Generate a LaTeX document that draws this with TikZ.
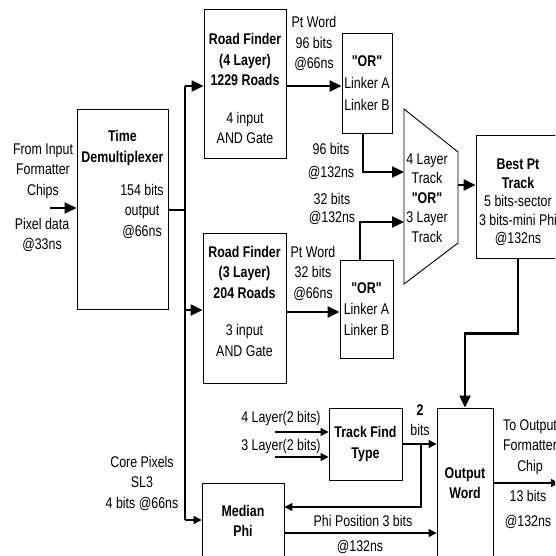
\documentclass[tikz,border=0pt]{standalone}
\usepackage{fontspec}
\setmainfont{Liberation Sans}[FakeStretch=0.8, Ligatures=TeXOff]
\usetikzlibrary{arrows.meta,calc}
\newcommand{\fsz}{\fontsize{15.5}{20.5}\selectfont}

\begin{document}
\begin{tikzpicture}[x=1pt, y=-1pt,
  blk/.style={draw, line width=0.9pt, inner sep=0pt, align=center, font=\fsz},
  lbl/.style={inner sep=0pt, align=center, font=\fsz},
  ar/.style={-{Triangle[length=12pt,width=11pt]}, line width=2.3pt},
  bus/.style={line width=2pt},
  tar/.style={-{Triangle[length=8pt,width=8pt]}, line width=1.2pt}]
\clip (0,0) rectangle (555,556);

% blocks
\node[blk, minimum width=91pt, minimum height=200pt] (dmx) at (122.5,209) {};
\node[lbl, font=\fsz\bfseries] (dmxname) at (122.5,148) {Time\\Demultiplexer};
\node[lbl] (dmxout) at (142,211) {154 bits\\output\\@66ns};
\node[blk, minimum width=82pt, minimum height=149pt,
  label={[lbl, yshift=-5pt]center:{\textbf{Road Finder}\\\textbf{(4 Layer)}\\\textbf{1229 Roads}\\[17pt]4 input\\AND Gate}}]
  (rf4) at (245,83.5) {};
\node[blk, minimum width=83pt, minimum height=150pt,
  label={[lbl, yshift=7pt]center:{\textbf{Road Finder}\\\textbf{(3 Layer)}\\\textbf{204 Roads}\\[17pt]3 input\\AND Gate}}]
  (rf3) at (244.5,308) {};
\node[blk, font=\fontsize{15.5}{22}\selectfont, minimum width=50pt, minimum height=100pt] (or1) at (367,83)
  {\textbf{"OR"}\\Linker A\\Linker B};
\node[blk, font=\fontsize{15.5}{21}\selectfont, minimum width=53pt, minimum height=98pt] (or2) at (366.5,309)
  {\textbf{"OR"}\\Linker A\\Linker B};
\draw[line width=0.9pt] (404,109) -- (458,152) -- (458,243) -- (404,284) -- cycle;
\coordinate (t1) at (404,172);
\coordinate (t2) at (404,222);
\coordinate (t3) at (458,185);
\node[lbl, font=\fontsize{15.5}{19.5}\selectfont] (sel) at (427,198)
  {4 Layer\\Track\\\textbf{"OR"}\\3 Layer\\Track};
\node[blk, minimum width=84pt, minimum height=123pt,
  label={[lbl, font=\fontsize{15.5}{18.5}\selectfont, yshift=-6pt]center:{\textbf{Best Pt}\\\textbf{Track}\\5 bits-sector\\3 bits-mini Phi\\@132ns}}]
  (best) at (518,196.5) {};
\node[blk, font=\fsz\bfseries, minimum width=73pt, minimum height=72pt] (tf) at (365.5,444) {Track Find\\Type};
\node[blk, font=\fsz\bfseries, minimum width=56pt, minimum height=150pt] (ow) at (465,483) {Output\\Word};
\node[blk, font=\fsz\bfseries, minimum width=82pt, minimum height=76pt] (mp) at (243,521) {Median\\Phi};

% input and bus
\coordinate (src) at (50,208);
\draw[ar] (src) -- (src -| dmx.west);
\node[lbl] (srclbl) at (43,171) {From Input\\Formatter\\Chips};
\node[lbl] (srcrate) at (42,235) {Pixel data\\@33ns};
\coordinate (bd) at (185,210);
\coordinate (b4) at (185,86);
\coordinate (b3) at (185,310);
\coordinate (bm) at (185,520);
\draw[bus] (dmx.east |- bd) -- (bd);
\draw[bus] (b4) -- (bm);
\draw[ar] (b4) -- (b4 -| rf4.west);
\draw[ar] (b3) -- (b3 -| rf3.west);
\draw[tar] (bm) -- (bm -| mp.west);
\node[lbl] (corelbl) at (142,483) {Core Pixels\\SL3\\4 bits @66ns};

% road finders to linkers
\draw[ar] (rf4.east |- b4) -- (or1.west |- b4);
\node[lbl] (pw4) at (314,43.5) {Pt Word\\96 bits\\@66ns};
\coordinate (p3) at (0,312);
\draw[ar] (rf3.east |- p3) -- (or2.west |- p3);
\node[lbl] (pw3) at (313,273) {Pt Word\\32 bits\\@66ns};

% linkers to track select
\draw[ar] ($(or1.south)+(-4,0)$) |- (t1);
\node[lbl] (or1out) at (331,161.5) {96 bits\\[2.5pt]@132ns};
\draw[ar] ($(or2.north)+(-6.5,0)$) |- (t2);
\node[lbl, font=\fontsize{15.5}{18}\selectfont] (or2out) at (332,209) {32 bits\\@132ns};
\draw[ar] (t3) -- (t3 -| best.west);
\draw[ar] (best.south) -- ++(0,75) -| (ow.north);

% track find type
\coordinate (in4) at (275,432);
\coordinate (in3) at (275,457);
\draw[tar] (in4) -- (in4 -| tf.west);
\draw[tar] (in3) -- (in3 -| tf.west);
\node[lbl] (in4lbl) at (281,418) {4 Layer(2 bits)};
\node[lbl] (in3lbl) at (281,446) {3 Layer(2 bits)};
\draw[tar] (tf.east) -- (tf.east -| ow.west);
\node[lbl] (twobit) at (420,420) {\textbf{2}\\bits};
\coordinate (lp) at (421,444);
\coordinate (lq) at (421,507);
\draw[tar] (lp) -- (lq) -- (lq -| mp.east);

% median phi to output word
\coordinate (pp) at (0,533);
\draw[tar] (mp.east |- pp) -- (ow.west |- pp);
\node[lbl] (pplbl) at (363,521) {Phi Position 3 bits};
\node[lbl] (pprate) at (360,547) {@132ns};

% output
\coordinate (oo) at (559,483);
\draw[tar] (ow.east) -- (oo);
\node[lbl] (outlbl) at (530,447) {To Output\\Formatter\\Chip};
\node[lbl] (outrate) at (528,509.5) {13 bits\\[4.5pt]@132ns};
\end{tikzpicture}
\end{document}
